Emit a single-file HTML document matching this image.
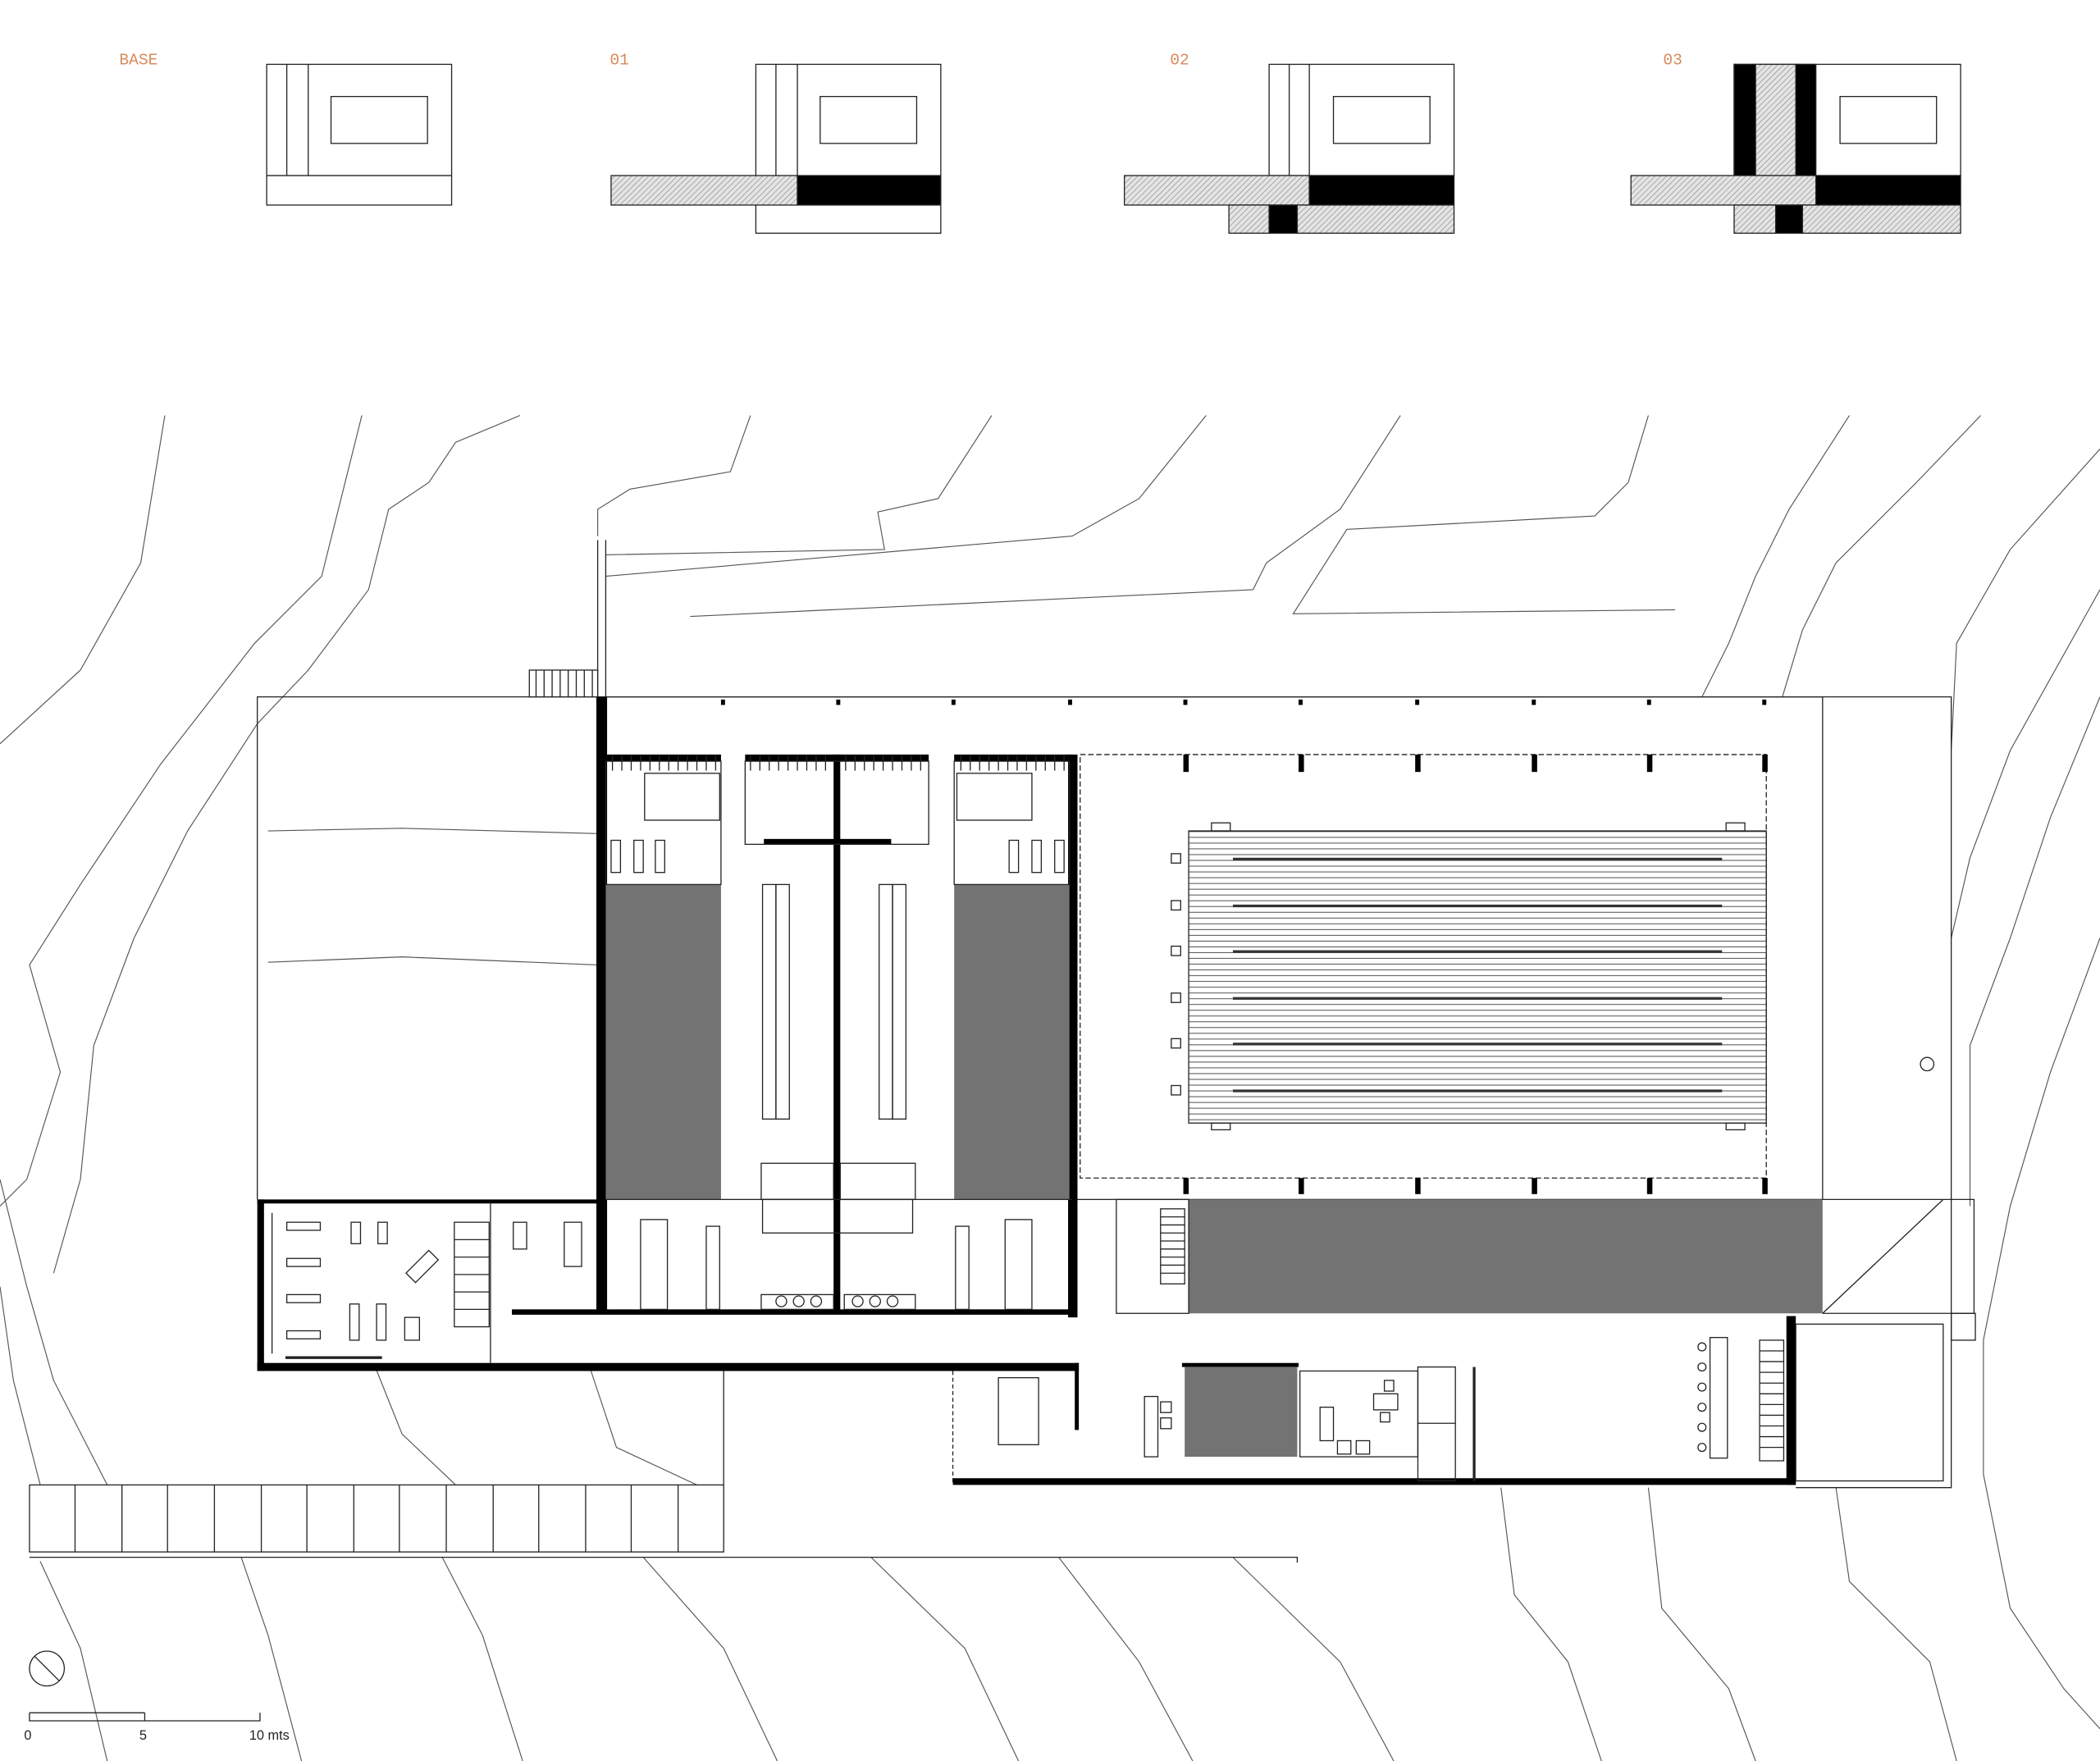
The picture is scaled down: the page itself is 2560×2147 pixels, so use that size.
<!DOCTYPE html>
<html><head><meta charset="utf-8"><style>html,body{margin:0;padding:0;background:#fff}svg{display:block}</style></head>
<body>
<svg width="2560" height="2147" viewBox="0 0 1567 1314" preserveAspectRatio="none" xmlns="http://www.w3.org/2000/svg">
<defs>
<pattern id="h" width="3" height="3" patternUnits="userSpaceOnUse" patternTransform="rotate(45)">
<rect width="3" height="3" fill="#e4e4e4"/><line x1="0" y1="0" x2="0" y2="3" stroke="#888" stroke-width="0.8"/></pattern>
<pattern id="pool" width="10" height="4.3" patternUnits="userSpaceOnUse" y="620">
<line x1="0" y1="0.5" x2="10" y2="0.5" stroke="#444" stroke-width="0.6"/></pattern>
</defs>
<rect width="1567" height="1314" fill="#fff"/>
<g font-family="Liberation Mono, monospace" font-size="12" fill="#d98a5a">
<text x="89" y="48">BASE</text><text x="455" y="48">01</text><text x="873" y="48">02</text><text x="1241" y="48">03</text>
</g>
<g fill="none" stroke="#222" stroke-width="0.8">
<rect x="199" y="48" width="138" height="105"/><line x1="199" y1="131" x2="337" y2="131"/><line x1="214" y1="48" x2="214" y2="131"/><line x1="230" y1="48" x2="230" y2="131"/><rect x="247" y="72" width="72" height="35"/>
<rect x="564" y="48" width="138" height="126"/><line x1="579" y1="48" x2="579" y2="131"/><line x1="595" y1="48" x2="595" y2="131"/><rect x="612" y="72" width="72" height="35"/>
<rect x="456" y="131" width="139" height="22" fill="url(#h)"/><rect x="595" y="131" width="107" height="22" fill="#000"/>
<rect x="947" y="48" width="138" height="83"/><line x1="962" y1="48" x2="962" y2="131"/><line x1="977" y1="48" x2="977" y2="131"/><rect x="995" y="72" width="72" height="35"/>
<rect x="839" y="131" width="138" height="22" fill="url(#h)"/><rect x="977" y="131" width="108" height="22" fill="#000"/>
<rect x="917" y="153" width="30" height="21" fill="url(#h)"/><rect x="947" y="153" width="21" height="21" fill="#000"/><rect x="968" y="153" width="117" height="21" fill="url(#h)"/>
<rect x="1294" y="48" width="169" height="83"/><rect x="1294" y="48" width="16" height="83" fill="#000"/><rect x="1310" y="48" width="30" height="83" fill="url(#h)"/><rect x="1340" y="48" width="15" height="83" fill="#000"/><rect x="1373" y="72" width="72" height="35"/>
<rect x="1217" y="131" width="138" height="22" fill="url(#h)"/><rect x="1355" y="131" width="108" height="22" fill="#000"/>
<rect x="1294" y="153" width="31" height="21" fill="url(#h)"/><rect x="1325" y="153" width="20" height="21" fill="#000"/><rect x="1345" y="153" width="118" height="21" fill="url(#h)"/>
</g>
<g fill="none" stroke="#555" stroke-width="0.7">
<polyline points="123,310 105,420 60,500 0,555"/>
<polyline points="270,310 240,430 190,480 120,570 60,660 22,720 45,800 20,880 0,900"/>
<polyline points="388,310 340,330 320,360 290,380 275,440 230,500 192,540 140,620 100,700 70,780 60,880 40,950"/>
<polyline points="560,310 545,352 470,365 446,380 446,400"/>
<polyline points="740,310 700,372 655,382 660,410 452,414"/>
<polyline points="900,310 850,372 800,400 452,430"/>
<polyline points="1045,310 1000,380 945,420 935,440 515,460"/>
<polyline points="1230,310 1215,360 1190,385 1005,395 965,458 1250,455"/>
<polyline points="1380,310 1335,380 1310,430 1290,480 1270,520"/>
<polyline points="1478,310 1430,360 1370,420 1345,470 1330,520"/>
<polyline points="1567,335 1500,410 1460,480 1456,560"/>
<polyline points="1567,440 1500,560 1470,640 1456,700"/>
<polyline points="1567,520 1530,610 1500,700 1470,780 1470,900"/>
<polyline points="1567,700 1530,800 1500,900 1480,1000 1480,1100 1500,1200 1540,1260 1567,1290"/>
<polyline points="0,880 20,960 40,1030 80,1108"/>
<polyline points="0,960 10,1030 30,1108"/>
<polyline points="280,1020 300,1070 340,1108"/>
<polyline points="440,1020 460,1080 520,1108"/>
<polyline points="1120,1110 1130,1190 1170,1240 1195,1314"/>
<polyline points="1230,1110 1240,1200 1290,1260 1310,1314"/>
<polyline points="1370,1110 1380,1180 1440,1240 1460,1314"/>
<polyline points="650,1162 720,1230 760,1314"/>
<polyline points="790,1162 850,1240 890,1314"/>
<polyline points="920,1162 1000,1240 1040,1314"/>
<polyline points="480,1162 540,1230 580,1314"/>
<polyline points="330,1162 360,1220 390,1314"/>
<polyline points="180,1162 200,1220 225,1314"/>
<polyline points="30,1165 60,1230 80,1314"/>
<polyline points="200,620 300,618 446,622"/>
<polyline points="200,718 300,714 446,720"/>
</g>
<g fill="none" stroke="#222" stroke-width="0.8">
<polyline points="192,895 192,520 1456,520 1456,1110 1340,1110"/>
<line x1="446" y1="403" x2="446" y2="520"/><line x1="452" y1="403" x2="452" y2="520"/>
<rect x="395" y="500" width="51" height="20"/>
<path d="M400 500v20M406 500v20M412 500v20M418 500v20M424 500v20M430 500v20M436 500v20M442 500v20"/>
<rect x="446" y="520" width="914" height="375"/>
<rect x="806" y="563" width="512" height="316" stroke-dasharray="4,2"/>
<rect x="887" y="620" width="431" height="218" fill="url(#pool)"/>
<rect x="904" y="614" width="14" height="6"/><rect x="1288" y="614" width="14" height="6"/><rect x="904" y="838" width="14" height="5"/><rect x="1288" y="838" width="14" height="5"/>
</g>
<g stroke="#333" stroke-width="2">
<line x1="920" y1="641" x2="1285" y2="641"/><line x1="920" y1="676" x2="1285" y2="676"/><line x1="920" y1="710" x2="1285" y2="710"/><line x1="920" y1="745" x2="1285" y2="745"/><line x1="920" y1="779" x2="1285" y2="779"/><line x1="920" y1="814" x2="1285" y2="814"/>
</g>
<g fill="none" stroke="#222" stroke-width="0.8">
<rect x="874" y="637" width="7" height="7"/><rect x="874" y="672" width="7" height="7"/><rect x="874" y="706" width="7" height="7"/><rect x="874" y="741" width="7" height="7"/><rect x="874" y="775" width="7" height="7"/><rect x="874" y="810" width="7" height="7"/>
<circle cx="1438" cy="794" r="5"/>
</g>
<g fill="#000">
<rect x="883" y="563" width="4" height="13"/><rect x="969" y="563" width="4" height="13"/><rect x="1056" y="563" width="4" height="13"/><rect x="1143" y="563" width="4" height="13"/><rect x="1229" y="563" width="4" height="13"/><rect x="1315" y="563" width="4" height="13"/>
<rect x="883" y="879" width="4" height="12"/><rect x="969" y="879" width="4" height="12"/><rect x="1056" y="879" width="4" height="12"/><rect x="1143" y="879" width="4" height="12"/><rect x="1229" y="879" width="4" height="12"/><rect x="1315" y="879" width="4" height="12"/>
<rect x="538" y="522" width="3" height="4"/><rect x="624" y="522" width="3" height="4"/><rect x="710" y="522" width="3" height="4"/><rect x="797" y="522" width="3" height="4"/><rect x="883" y="522" width="3" height="4"/><rect x="969" y="522" width="3" height="4"/><rect x="1056" y="522" width="3" height="4"/><rect x="1143" y="522" width="3" height="4"/><rect x="1229" y="522" width="3" height="4"/><rect x="1315" y="522" width="3" height="4"/>
<rect x="445" y="520" width="8" height="460"/>
<rect x="622" y="563" width="5" height="417"/>
<rect x="797" y="563" width="7" height="420"/>
<rect x="452" y="563" width="86" height="5"/><rect x="556" y="563" width="137" height="5"/><rect x="712" y="563" width="88" height="5"/>
<rect x="192" y="895" width="5" height="128"/><rect x="192" y="1017" width="613" height="6"/><rect x="192" y="895" width="254" height="3"/>
<rect x="382" y="977" width="422" height="4"/>
<rect x="711" y="1103" width="629" height="5"/>
<rect x="1333" y="982" width="7" height="126"/>
<rect x="802" y="1017" width="3" height="50"/>
<rect x="882" y="1017" width="87" height="3"/>
<rect x="570" y="626" width="95" height="4"/>
</g>
<g fill="#737373">
<rect x="452" y="660" width="86" height="235"/>
<rect x="712" y="660" width="86" height="235"/>
<rect x="887" y="895" width="473" height="85"/>
<rect x="884" y="1020" width="84" height="67"/>
</g>
<g fill="none" stroke="#222" stroke-width="0.8">
<rect x="452" y="568" width="86" height="92"/><rect x="712" y="568" width="86" height="92"/>
<rect x="556" y="568" width="137" height="62"/>
<path d="M457 563v12M464 563v12M471 563v12M478 563v12M485 563v12M492 563v12M499 563v12M506 563v12M513 563v12M520 563v12M527 563v12M534 563v12"/>
<path d="M560 563v12M567 563v12M574 563v12M581 563v12M588 563v12M595 563v12M602 563v12M609 563v12M616 563v12M631 563v12M638 563v12M645 563v12M652 563v12M659 563v12M666 563v12M673 563v12M680 563v12M687 563v12"/>
<path d="M717 563v12M724 563v12M731 563v12M738 563v12M745 563v12M752 563v12M759 563v12M766 563v12M773 563v12M780 563v12M787 563v12M794 563v12"/>
<rect x="481" y="577" width="56" height="35"/><rect x="714" y="577" width="56" height="35"/>
<rect x="456" y="627" width="7" height="24"/><rect x="473" y="627" width="7" height="24"/><rect x="489" y="627" width="7" height="24"/>
<rect x="753" y="627" width="7" height="24"/><rect x="770" y="627" width="7" height="24"/><rect x="787" y="627" width="7" height="24"/>
<rect x="569" y="660" width="10" height="175"/><rect x="579" y="660" width="10" height="175"/>
<rect x="656" y="660" width="10" height="175"/><rect x="666" y="660" width="10" height="175"/>
<rect x="568" y="868" width="54" height="27"/><rect x="627" y="868" width="56" height="27"/>
<rect x="569" y="895" width="112" height="25"/>
<rect x="478" y="910" width="20" height="67"/><rect x="750" y="910" width="20" height="67"/>
<rect x="527" y="915" width="10" height="62"/><rect x="713" y="915" width="10" height="62"/>
<rect x="568" y="966" width="54" height="11"/><rect x="630" y="966" width="53" height="11"/>
<circle cx="583" cy="971" r="4"/><circle cx="596" cy="971" r="4"/><circle cx="609" cy="971" r="4"/><circle cx="640" cy="971" r="4"/><circle cx="653" cy="971" r="4"/><circle cx="666" cy="971" r="4"/>
<line x1="452" y1="895" x2="538" y2="895"/><line x1="712" y1="895" x2="800" y2="895"/>
<rect x="833" y="895" width="54" height="85"/><rect x="866" y="902" width="18" height="56"/>
<path d="M866 908h18M866 914h18M866 920h18M866 926h18M866 932h18M866 938h18M866 944h18M866 950h18"/>
<path d="M1360 895h113v85H1360M1360 980L1450 895"/>
<rect x="1340" y="988" width="110" height="117"/>
<rect x="1456" y="980" width="18" height="20"/>
<rect x="214" y="912" width="25" height="6"/><rect x="214" y="939" width="25" height="6"/><rect x="214" y="966" width="25" height="6"/><rect x="214" y="993" width="25" height="6"/>
<rect x="262" y="912" width="7" height="16"/><rect x="282" y="912" width="7" height="16"/>
<rect x="261" y="973" width="7" height="27"/><rect x="281" y="973" width="7" height="27"/><rect x="302" y="983" width="11" height="17"/>
<rect x="303" y="940" width="24" height="10" transform="rotate(-45 315 945)"/>
<rect x="339" y="912" width="26" height="78"/><path d="M339 925h26M339 938h26M339 951h26M339 964h26M339 977h26"/>
<rect x="383" y="912" width="10" height="20"/><rect x="421" y="912" width="13" height="33"/>
<line x1="366" y1="897" x2="366" y2="1017"/><line x1="203" y1="905" x2="203" y2="1010"/>
<line x1="213" y1="1013" x2="285" y2="1013" stroke-width="2"/>
<line x1="711" y1="1023" x2="711" y2="1108" stroke-dasharray="3,2"/>
<rect x="745" y="1028" width="30" height="50"/><rect x="854" y="1042" width="10" height="45"/><rect x="866" y="1046" width="8" height="8"/><rect x="866" y="1058" width="8" height="8"/>
<rect x="970" y="1023" width="88" height="64"/><rect x="985" y="1050" width="10" height="25"/><rect x="998" y="1075" width="10" height="10"/><rect x="1012" y="1075" width="10" height="10"/>
<rect x="1025" y="1040" width="18" height="12"/><rect x="1033" y="1030" width="7" height="8"/><rect x="1030" y="1054" width="7" height="7"/>
<rect x="1058" y="1020" width="28" height="85"/><line x1="1058" y1="1062" x2="1086" y2="1062"/><line x1="1100" y1="1020" x2="1100" y2="1105" stroke-width="2"/>
<rect x="1276" y="998" width="13" height="90"/><circle cx="1270" cy="1005" r="3"/><circle cx="1270" cy="1020" r="3"/><circle cx="1270" cy="1035" r="3"/><circle cx="1270" cy="1050" r="3"/><circle cx="1270" cy="1065" r="3"/><circle cx="1270" cy="1080" r="3"/>
<rect x="1313" y="1000" width="18" height="90"/><path d="M1313 1008h18M1313 1016h18M1313 1024h18M1313 1032h18M1313 1040h18M1313 1048h18M1313 1056h18M1313 1064h18M1313 1072h18M1313 1080h18"/>
<rect x="22" y="1108" width="518" height="50"/>
<path d="M56 1108v50M91 1108v50M125 1108v50M160 1108v50M195 1108v50M229 1108v50M264 1108v50M298 1108v50M333 1108v50M368 1108v50M402 1108v50M437 1108v50M471 1108v50M506 1108v50"/>
<polyline points="22,1162 968,1162 968,1166"/>
<line x1="540" y1="1023" x2="540" y2="1108"/>
<circle cx="35" cy="1245" r="13"/><line x1="26" y1="1236" x2="44" y2="1254"/>
<polyline points="22,1278 22,1284 194,1284 194,1278"/><line x1="108" y1="1278" x2="108" y2="1284"/><line x1="22" y1="1278" x2="108" y2="1278"/>
</g>
<g font-family="Liberation Sans, sans-serif" font-size="10" fill="#222">
<text x="18" y="1298">0</text><text x="104" y="1298">5</text><text x="186" y="1298">10 mts</text>
</g>
</svg>
</body></html>
